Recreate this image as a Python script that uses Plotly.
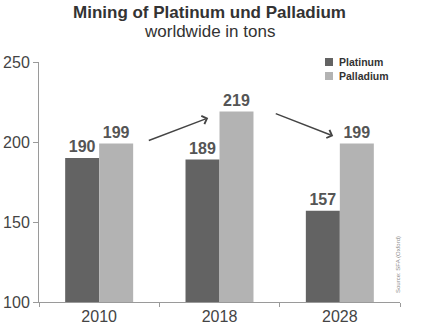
import plotly.graph_objects as go

# Mining output in tons
years = ["2010", "2018", "2028"]
platinum = [190, 189, 157]
palladium = [199, 219, 199]
series_names = ["Platinum", "Palladium"]
y_ticks = [100, 150, 200, 250]

DARK = "#636363"
LIGHT = "#b3b3b3"
FONT = "Liberation Sans, Arial, sans-serif"

W, H = 427, 329
L, R, T, B = 39, 27, 62, 27


def px_x(px):
    return (px - L) / (W - L - R)


def px_y(py):
    return (H - B - py) / (H - T - B)


fig = go.Figure()
for name, vals, col in [(series_names[0], platinum, DARK), (series_names[1], palladium, LIGHT)]:
    fig.add_trace(go.Bar(
        x=years, y=vals, name=name,
        marker=dict(color=col, line=dict(width=0)),
        text=[str(v) for v in vals], textposition="outside",
        textfont=dict(family=FONT, size=16, color="#555555", weight="bold"),
        cliponaxis=False, showlegend=False,
    ))

annotations = [
    dict(text="<b>Mining of Platinum und Palladium</b>", x=px_x(209), y=px_y(12),
         xref="paper", yref="paper", showarrow=False, xanchor="center", yanchor="middle",
         font=dict(family=FONT, size=17, color="#333333")),
    dict(text="worldwide in tons", x=px_x(209), y=px_y(31),
         xref="paper", yref="paper", showarrow=False, xanchor="center", yanchor="middle",
         font=dict(family=FONT, size=17, color="#333333")),
    dict(text="Source: SFA (Oxford)", x=px_x(398), y=px_y(265), textangle=-90,
         xref="paper", yref="paper", showarrow=False, xanchor="center", yanchor="middle",
         font=dict(family=FONT, size=6, color="#8a8a8a")),
]

# trend arrows between the palladium bars
arrows = [
    (0.40, palladium[0] + 1.6, 0.906, palladium[1] - 4.0),
    (1.455, palladium[1] - 0.9, 1.945, palladium[2] + 4.75),
]
for x0, y0, x1, y1 in arrows:
    annotations.append(dict(
        x=x1, y=y1, ax=x0, ay=y0, xref="x", yref="y", axref="x", ayref="y",
        text="", showarrow=True, arrowhead=4, arrowsize=1.2, arrowwidth=1.4,
        arrowcolor="#444444",
    ))

# legend entries
shapes = []
for i, (name, col) in enumerate([(series_names[0], DARK), (series_names[1], LIGHT)]):
    cy = 62 + i * 14
    shapes.append(dict(type="rect", xref="paper", yref="paper",
                       x0=px_x(325), x1=px_x(333), y0=px_y(cy + 4), y1=px_y(cy - 4),
                       fillcolor=col, line=dict(width=0)))
    annotations.append(dict(text="<b>" + name + "</b>", x=px_x(337), y=px_y(cy),
                            xref="paper", yref="paper", showarrow=False,
                            xanchor="left", yanchor="middle",
                            font=dict(family=FONT, size=10.5, color="#333333")))

fig.update_layout(
    width=W, height=H,
    margin=dict(l=L, r=R, t=T, b=B, pad=0, autoexpand=False),
    paper_bgcolor="white", plot_bgcolor="white",
    barmode="group", bargap=0.435, bargroupgap=0,
    annotations=annotations, shapes=shapes,
    showlegend=False,
)
fig.update_yaxes(
    range=[100, 250], tickvals=y_ticks, showgrid=False, zeroline=False,
    showline=True, linecolor="#9a9a9a", linewidth=1, automargin=False,
    ticks="outside", ticklen=5, tickcolor="#9a9a9a",
    tickfont=dict(family=FONT, size=16, color="#444444"),
)
fig.update_xaxes(
    showgrid=False, showline=True, linecolor="#9a9a9a", linewidth=1, automargin=False,
    ticks="outside", ticklen=4, tickcolor="#9a9a9a", tickson="boundaries",
    tickfont=dict(family=FONT, size=16, color="#444444"),
)

fig.write_html("out.html")
